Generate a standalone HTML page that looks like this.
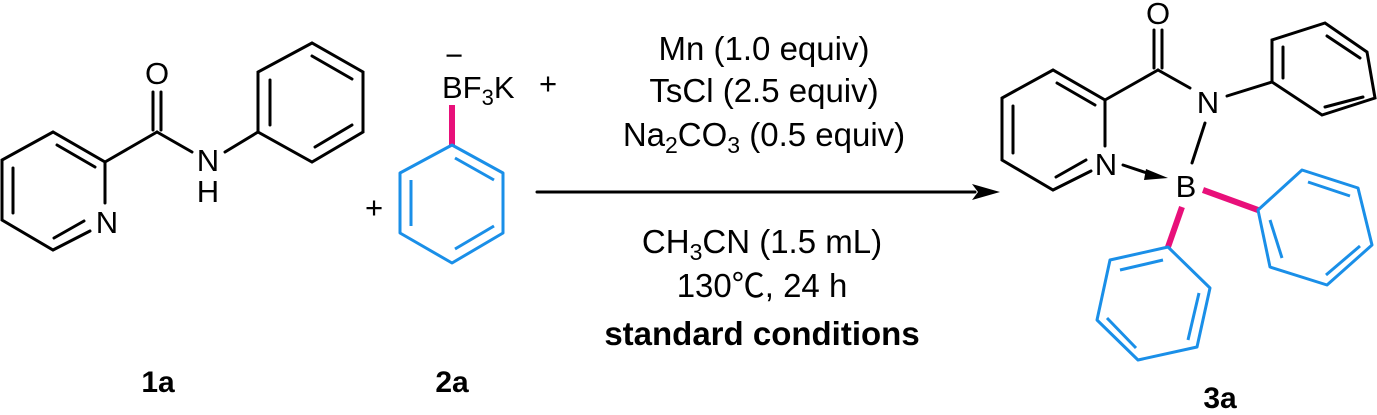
<!DOCTYPE html>
<html><head><style>body{margin:0;background:#fff}svg{display:block}</style></head>
<body>
<svg width="1377" height="415" viewBox="0 0 1377 415" xmlns="http://www.w3.org/2000/svg" font-family="Liberation Sans, Arial, sans-serif">
<g stroke="#000" stroke-width="3" fill="none" stroke-linecap="round">
<!-- 1a pyridine -->
<polyline points="90,231 53,250 2,220 2,160 53,132 105,162 105,203"/>
<line x1="13" y1="168" x2="13" y2="213"/>
<line x1="57" y1="145" x2="95" y2="167"/>
<line x1="54" y1="238" x2="84" y2="221"/>
<line x1="105" y1="162" x2="157" y2="132"/>
<line x1="153" y1="92" x2="153" y2="130"/>
<line x1="161" y1="92" x2="161" y2="130"/>
<line x1="157" y1="132" x2="192" y2="152"/>
<line x1="225" y1="152" x2="258" y2="132"/>
<polygon points="258,132 258,72 312,43 363,72 363,132 312,162"/>
<line x1="270" y1="80" x2="270" y2="125"/>
<line x1="312" y1="56" x2="352" y2="79"/>
<line x1="352" y1="125" x2="315" y2="147"/>
<!-- 3a -->
<polyline points="1091,171 1053,190 1002,160 1002,98 1053,70 1105,100 1105,146"/>
<line x1="1013" y1="106" x2="1013" y2="153"/>
<line x1="1057" y1="83" x2="1095" y2="105"/>
<line x1="1056" y1="177" x2="1086" y2="160"/>
<line x1="1105" y1="100" x2="1158" y2="70"/>
<line x1="1154" y1="30" x2="1154" y2="68"/>
<line x1="1162" y1="30" x2="1162" y2="68"/>
<line x1="1158" y1="70" x2="1190" y2="88"/>
<line x1="1205" y1="123" x2="1192" y2="163"/>
<line x1="1227" y1="96" x2="1272" y2="82"/>
<polygon points="1272,82 1272,40 1325,23 1367,52 1375,98 1322,115"/>
<line x1="1283" y1="47" x2="1283" y2="78"/>
<line x1="1327" y1="36" x2="1360" y2="58"/>
<line x1="1363" y1="97" x2="1325" y2="107"/>
<line x1="1123" y1="165" x2="1150" y2="174"/>
<line x1="537" y1="192" x2="975" y2="192"/>
</g>
<polygon points="1146,169 1168,178 1144,180" fill="#000"/>
<polygon points="1000,192 972,184 978,192 972,200" fill="#000"/>
<g stroke="#e8107a" stroke-width="6" stroke-linecap="butt">
<line x1="452" y1="105" x2="452" y2="146"/>
<line x1="1203" y1="190" x2="1258" y2="210"/>
<line x1="1182" y1="207" x2="1168" y2="247"/>
</g>
<g stroke="#1a8fe8" stroke-width="3" fill="none" stroke-linejoin="round">
<polygon points="452,145 503,173 503,233 452,263 400,233 400,173"/>
<line x1="411" y1="180" x2="411" y2="226"/>
<line x1="455" y1="158" x2="494" y2="180"/>
<line x1="494" y1="226" x2="455" y2="249"/>
<polygon points="1258,210 1302,170 1358,188 1372,245 1327,285 1270,267"/>
<line x1="1308" y1="182" x2="1350" y2="196"/>
<line x1="1360" y1="246" x2="1326" y2="275"/>
<line x1="1282" y1="258" x2="1270" y2="220"/>
<polygon points="1168,247 1210,288 1197,347 1138,360 1097,320 1110,260"/>
<line x1="1120" y1="270" x2="1163" y2="260"/>
<line x1="1199" y1="293" x2="1188" y2="340"/>
<line x1="1136" y1="348" x2="1107" y2="318"/>
</g>
<g font-size="31" fill="#000" text-anchor="middle">
<text x="157" y="84">O</text>
<text x="208" y="171">N</text>
<text x="208" y="202">H</text>
<text x="107" y="233">N</text>
<text x="1158" y="24">O</text>
<text x="1208" y="113">N</text>
<text x="1106" y="175">N</text>
<text x="1186" y="197">B</text>
<text x="374" y="218">+</text>
<text x="454" y="66">−</text>
<text x="442" y="98" text-anchor="start">BF<tspan font-size="22" dy="7">3</tspan><tspan dy="-7">K</tspan></text>
<text x="548" y="94">+</text>
</g>
<g font-size="33" fill="#000" text-anchor="middle">
<text x="764" y="60">Mn (1.0 equiv)</text>
<text x="764" y="102">TsCl (2.5 equiv)</text>
<text x="764" y="146">Na<tspan font-size="23" dy="7">2</tspan><tspan dy="-7">CO</tspan><tspan font-size="23" dy="7">3</tspan><tspan dy="-7"> (0.5 equiv)</tspan></text>
<text x="762" y="253">CH<tspan font-size="23" dy="7">3</tspan><tspan dy="-7">CN (1.5 mL)</tspan></text>
<text x="762" y="297" font-family="Liberation Sans, Noto Sans CJK SC, sans-serif">130℃, 24 h</text>
<text x="762" y="345" font-weight="bold">standard conditions</text>
</g>
<g font-size="30" font-weight="bold" fill="#000" text-anchor="middle">
<text x="158" y="392">1a</text>
<text x="452" y="392">2a</text>
<text x="1220" y="408">3a</text>
</g>
</svg>
</body></html>
